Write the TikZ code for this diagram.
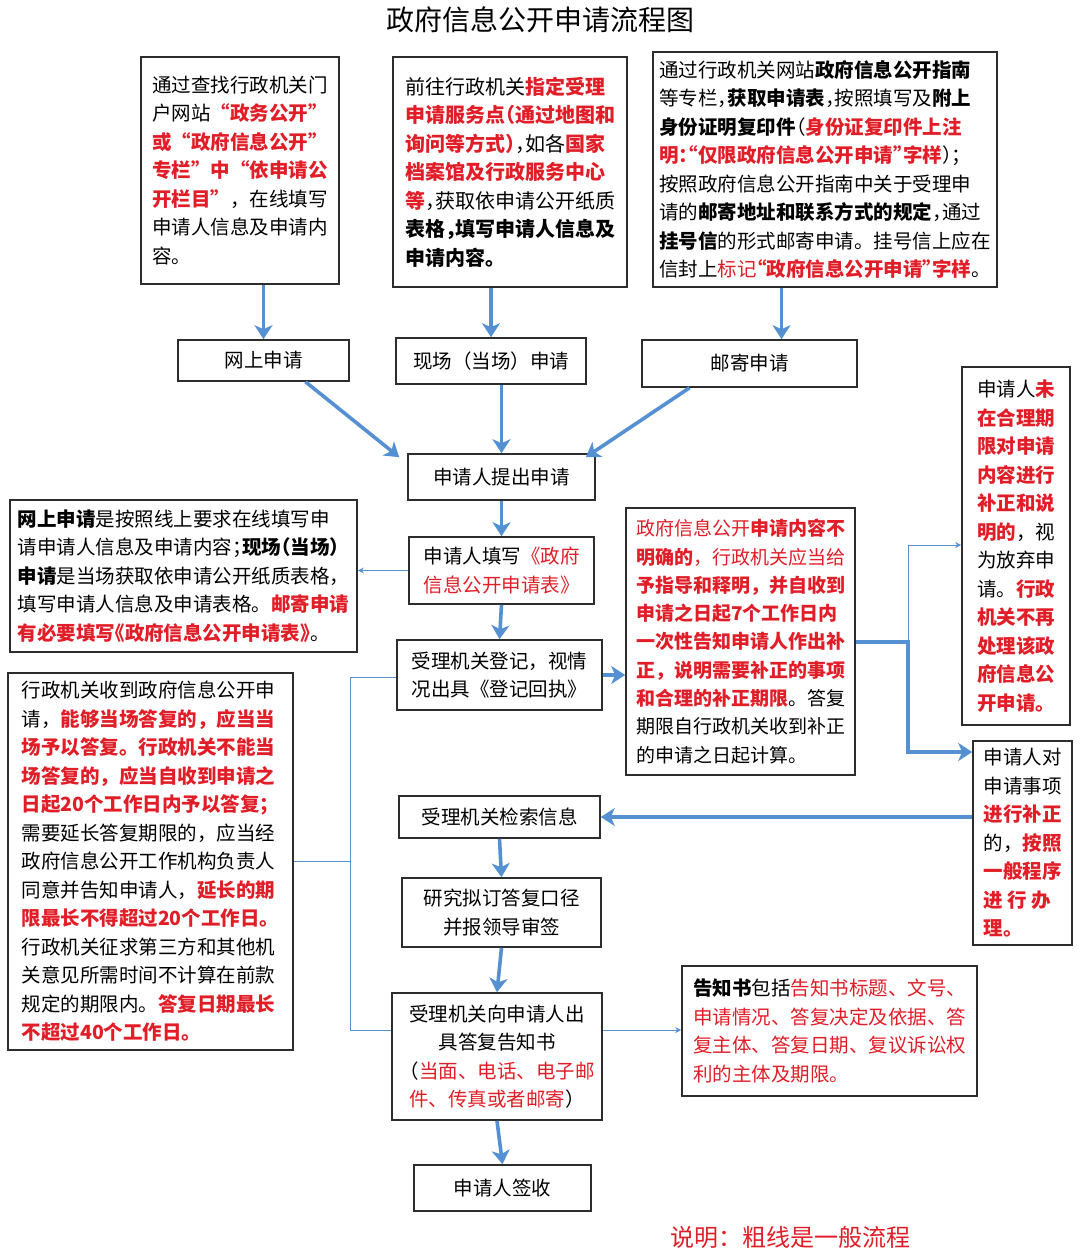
\documentclass[tikz,border=0pt]{standalone}
\usepackage{fontspec}
\setmainfont{Noto Sans CJK SC}
\usetikzlibrary{arrows.meta,calc}
\definecolor{redt}{RGB}{225,30,40}
\definecolor{arrowblue}{RGB}{85,145,210}
\definecolor{boxc}{RGB}{45,45,45}
\newcommand\myR[1]{\textcolor{redt}{\bfseries #1}}
\newcommand\myRn[1]{\textcolor{redt}{#1}}
\newcommand\myB[1]{{\bfseries #1}}
\newcommand\po[1]{\makebox[0.5em][r]{#1}}
\newcommand\pc[1]{\makebox[0.5em][l]{#1}}
\tikzset{
  box/.style={draw=boxc, line width=1.6pt, inner sep=0pt, align=left,
    font=\fontsize{19.5}{28.5}\selectfont},
  flow/.style={box, align=center},
  thk/.style={draw=arrowblue, line width=3.6pt,
    -{Stealth[length=14pt,width=18pt,inset=4pt]}},
  thkline/.style={draw=arrowblue, line width=3.6pt},
  thn/.style={draw=arrowblue, line width=0.9pt, -{Stealth[length=6pt,width=6pt]}},
  thnline/.style={draw=arrowblue, line width=0.9pt}
}
\begin{document}
\begin{tikzpicture}[x=1pt,y=-1pt]
\useasboundingbox[fill=white] (0,0) rectangle (1080,1250);

\node[font=\fontsize{28}{32}\selectfont] (title) at (540,20) {政府信息公开申请流程图};

% top boxes
\node[box, minimum width=198pt, minimum height=227pt] (A) at (240,170.5) {%
通过查找行政机关门\\
户网站\myR{“政务公开”}\\
\myR{或“政府信息公开”}\\
\myR{专栏”中“依申请公}\\
\myR{开栏目”}，在线填写\\
申请人信息及申请内\\
容。};

\node[box, minimum width=234pt, minimum height=230pt, font=\fontsize{20}{28.5}\selectfont] (B) at (510,172) {%
前往行政机关\myR{指定受理}\\
\myR{申请服务点\po{（}通过地图和}\\
\myR{询问等方式\pc{）}}\pc{，}如各\myR{国家}\\
\myR{档案馆及行政服务中心}\\
\myR{等}\pc{，}获取依申请公开纸质\\
\myB{表格\pc{，}填写申请人信息及}\\
\myB{申请内容。}};

\node[box, minimum width=344pt, minimum height=235pt, font=\fontsize{19.5}{28.5}\selectfont] (C) at (825,169.5) {%
通过行政机关网站\myB{政府信息公开指南}\\
等专栏\pc{，}\myB{获取申请表}\pc{，}按照填写及\myB{附上}\\
\myB{身份证明复印件}\po{（}\myR{身份证复印件上注}\\
\myR{明\pc{：}\po{“}仅限政府信息公开申请\pc{”}字样}\pc{）}；\\
按照政府信息公开指南中关于受理申\\
请的\myB{邮寄地址和联系方式的规定}\pc{，}通过\\
\myB{挂号信}的形式邮寄申请。挂号信上应在\\
信封上\myRn{标记}\myR{\po{“}政府信息公开申请\pc{”}字样}\pc{。}};

% application types
\node[flow, minimum width=171pt, minimum height=41pt] (web) at (263.5,360.5) {网上申请};
\node[flow, minimum width=190pt, minimum height=46pt] (site) at (491,361) {现场（当场）申请};
\node[flow, minimum width=215pt, minimum height=47pt] (mail) at (749.5,363.5) {邮寄申请};

% main flow
\node[flow, minimum width=187pt, minimum height=46pt] (submit) at (501.5,477) {申请人提出申请};
\node[flow, minimum width=185pt, minimum height=67pt] (fill) at (501.5,570.5) {申请人填写\myRn{《政府}\\\myRn{信息公开申请表》}};
\node[flow, minimum width=205pt, minimum height=70pt] (reg) at (499.5,675) {受理机关登记，视情\\况出具《登记回执》};
\node[flow, minimum width=201pt, minimum height=42pt] (search) at (499.5,817) {受理机关检索信息};
\node[flow, minimum width=199pt, minimum height=69pt] (study) at (501.5,912.5) {研究拟订答复口径\\并报领导审签};
\node[flow, minimum width=210pt, minimum height=127pt] (reply) at (497,1056.5) {受理机关向申请人出\\具答复告知书\\（\myRn{当面、电话、电子邮}\\\myRn{件、传真或者邮寄}）};
\node[flow, minimum width=177pt, minimum height=46pt] (sign) at (502.5,1188) {申请人签收};

% side boxes
\node[box, minimum width=347pt, minimum height=152pt, font=\fontsize{19.5}{28.5}\selectfont] (L1) at (183.5,576) {%
\myB{网上申请}是按照线上要求在线填写申\\
请申请人信息及申请内容\pc{；}\myB{现场\po{（}当场\pc{）}}\\
\myB{申请}是当场获取依申请公开纸质表格\pc{，}\\
填写申请人信息及申请表格。\myR{邮寄申请}\\
\myR{有必要填写\po{《}政府信息公开申请表\pc{》}}。};

\node[box, minimum width=229pt, minimum height=267pt, font=\fontsize{19}{28.3}\selectfont] (M) at (740.5,641.5) {%
\myRn{政府信息公开}\myR{申请内容不}\\
\myR{明确的}\myRn{，行政机关应当给}\\
\myR{予指导和释明，并自收到}\\
\myR{申请之日起7个工作日内}\\
\myR{一次性告知申请人作出补}\\
\myR{正，说明需要补正的事项}\\
\myR{和合理的补正期限}。答复\\
期限自行政机关收到补正\\
的申请之日起计算。};

\node[box, minimum width=108pt, minimum height=358pt] (RT) at (1016,546) {%
申请人\myR{未}\\
\myR{在合理期}\\
\myR{限对申请}\\
\myR{内容进行}\\
\myR{补正和说}\\
\myR{明的}，视\\
为放弃申\\
请。\myR{行政}\\
\myR{机关不再}\\
\myR{处理该政}\\
\myR{府信息公}\\
\myR{开申请。}};

\node[box, minimum width=99pt, minimum height=204pt] (RB) at (1022.5,843) {%
申请人对\\
申请事项\\
\myR{进行补正}\\
的，\myR{按照}\\
\myR{一般程序}\\
\myR{进\ 行\ 办}\\
\myR{理。}};

\node[box, minimum width=285pt, minimum height=377pt] (LB) at (150.5,861.5) {%
行政机关收到政府信息公开申\\
请，\myR{能够当场答复的，应当当}\\
\myR{场予以答复。行政机关不能当}\\
\myR{场答复的，应当自收到申请之}\\
\myR{日起20个工作日内予以答复；}\\
需要延长答复期限的，应当经\\
政府信息公开工作机构负责人\\
同意并告知申请人，\myR{延长的期}\\
\myR{限最长不得超过20个工作日。}\\
行政机关征求第三方和其他机\\
关意见所需时间不计算在前款\\
规定的期限内。\myR{答复日期最长}\\
\myR{不超过40个工作日。}};

\node[box, minimum width=295pt, minimum height=130pt] (notice) at (829.5,1031) {%
\myB{告知书}包括\myRn{告知书标题、文号、}\\
\myRn{申请情况、答复决定及依据、答}\\
\myRn{复主体、答复日期、复议诉讼权}\\
\myRn{利的主体及期限。}};

\node[font=\fontsize{24}{28}\selectfont, text=redt] (note) at (790,1237) {说明：粗线是一般流程};

% thick arrows
\draw[thk] (web.north |- A.south) -- (web.north);
\draw[thk] (site.north |- B.south) -- (site.north);
\draw[thk] ([xshift=32pt]mail.north |- C.south) -- ([xshift=32pt]mail.north);
\draw[thk] ([xshift=42pt]web.south) -- ([xshift=-8pt,yshift=-4pt]submit.north west);
\draw[thk] (site.south -| submit.north) -- (submit.north);
\draw[thk] ([xshift=-60pt]mail.south) -- ([xshift=-10pt,yshift=-4pt]submit.north east);
\draw[thk] (submit.south) -- (fill.north);
\draw[thk] (fill.south) -- (reg.north);
\draw[thk] (reg.east) -- (M.west |- reg.east);
\coordinate (j1) at (908,642);
\coordinate (j2) at (908,545);
\coordinate (j3) at (908,752);
\draw[thk] (M.east |- j1) -- (j1) -- (j3) -- (RB.west |- j3);
\draw[thn] (j1) -- (j2) -- (RT.west |- j2);
\draw[thk] (RB.west |- search.east) -- (search.east);
\draw[thk] (search.south) -- (study.north);
\draw[thk] (study.south) -- (reply.north);
\draw[thk] (reply.south) -- (sign.north);

% thin connectors
\draw[thn] (fill.west) -- (L1.east |- fill.west);
\coordinate (k1) at (350,677);
\coordinate (k2) at (350,1030);
\draw[thnline] (LB.east) -- (LB.east -| k1);
\draw[thnline] (reg.west |- k1) -- (k1) -- (k2) -- (reply.west |- k2);
\draw[thn] (reply.east |- k2) -- (notice.west |- k2);
\end{tikzpicture}
\end{document}
